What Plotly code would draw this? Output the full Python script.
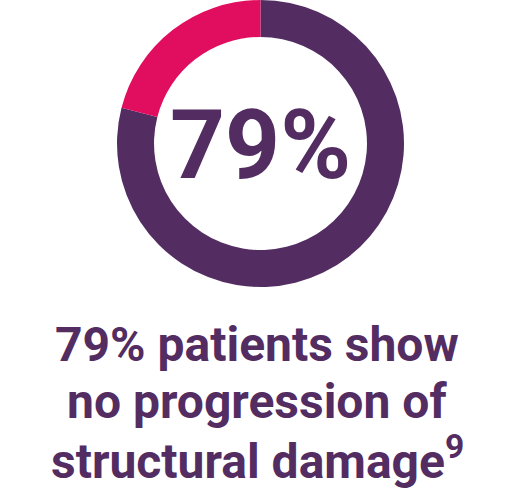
import plotly.graph_objects as go

labels = ["No progression", "Progression"]
values = [79, 21]
colors = ["#532D62", "#E10D5E"]
center_label = "79%"
caption_lines = ["79% patients show", "no progression of", "structural damage<sup>9</sup>"]

W, H = 520, 500
fig = go.Figure()
fig.add_trace(go.Pie(
    labels=labels, values=values, hole=0.742, sort=False,
    direction="clockwise", rotation=0,
    marker=dict(colors=colors, line=dict(width=0)),
    textinfo="none", hoverinfo="label+percent", showlegend=False,
    domain=dict(x=[117 / W, 404 / W], y=[1 - 287 / H, 1.0]),
))

fig.add_annotation(
    x=260 / W, y=1 - 145 / H, xref="paper", yref="paper",
    text="<b>" + center_label + "</b>", showarrow=False, xanchor="center", yanchor="middle",
    font=dict(family="Roboto", size=96, color="#532D62"),
)

baselines = [344, 401, 458]
for line, yc in zip(caption_lines, baselines):
    fig.add_annotation(
        x=257 / W, y=1 - yc / H, xref="paper", yref="paper",
        text="<b>" + line + "</b>", showarrow=False, xanchor="center", yanchor="middle",
        font=dict(family="Roboto", size=48, color="#532D62"),
    )

fig.update_layout(
    width=W, height=H, margin=dict(l=0, r=0, t=0, b=0),
    paper_bgcolor="white", plot_bgcolor="white",
)
fig.write_html("out.html")
